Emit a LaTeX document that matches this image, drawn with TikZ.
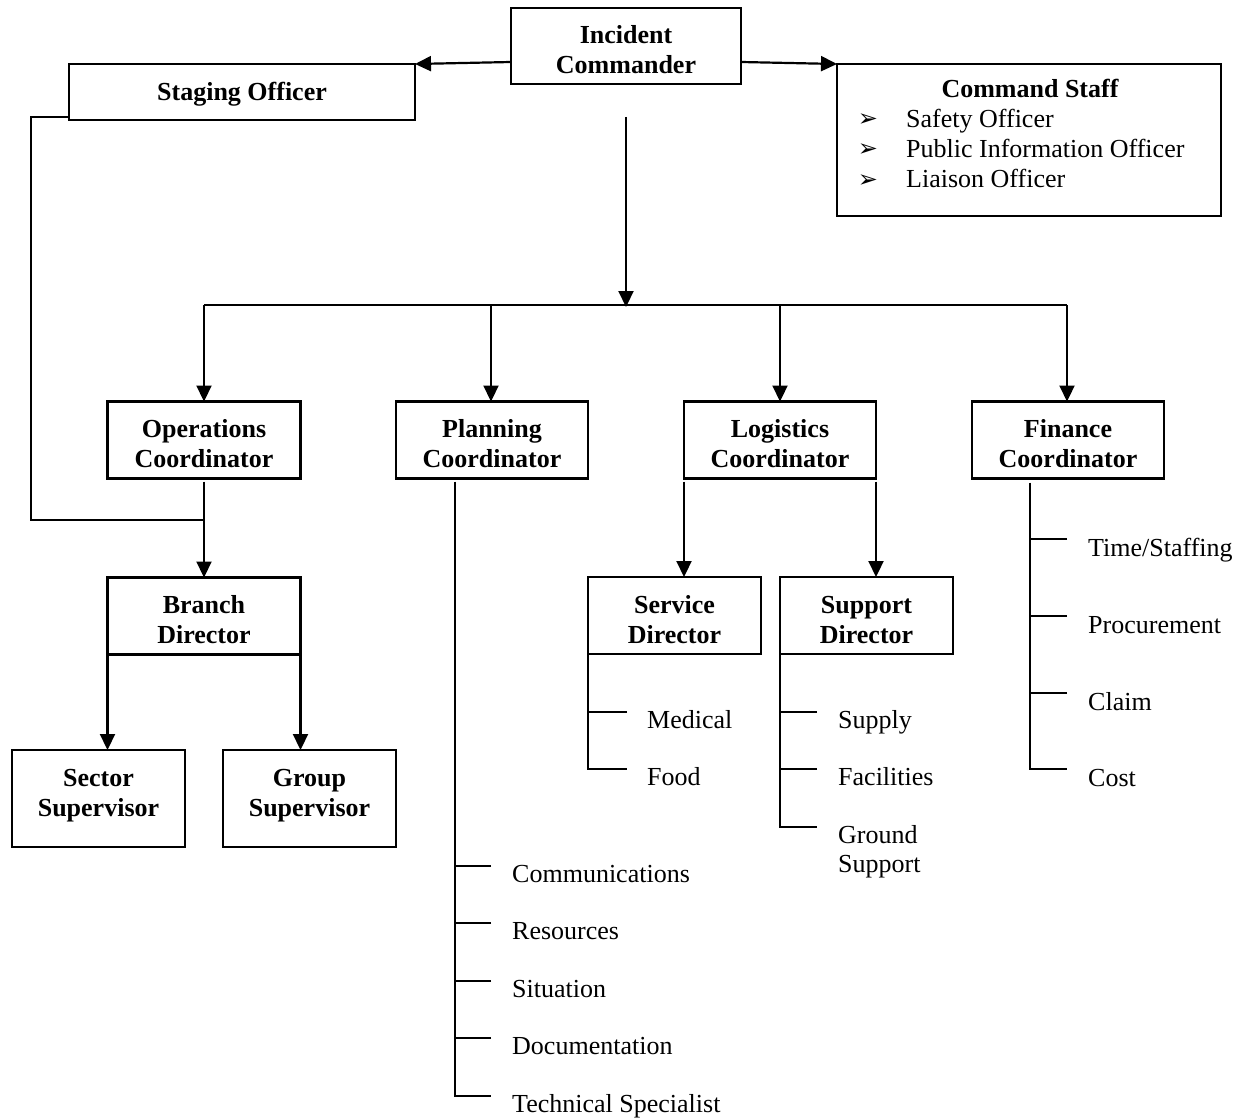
\documentclass[tikz,border=0pt]{standalone}
\usepackage{fontspec}
\setmainfont{Liberation Serif}
\newfontfamily\symfont{DejaVu Sans}
\usetikzlibrary{arrows.meta}
\newcommand\tup{\rule{0pt}{26pt}}
\newcommand\bdn{\rule[-12pt]{0pt}{1pt}}
\begin{document}
\begin{tikzpicture}[x=1pt,y=-1pt,
  box/.style={draw,line width=2.1pt,inner sep=0pt,outer sep=0pt,align=center,font=\fontsize{26}{30}\selectfont\bfseries},
  conn/.style={line width=2.2pt},
  arr/.style={line width=2.2pt,-{Triangle[length=16pt,width=15pt]}},
  tree/.style={line width=1.9pt},
  item/.style={anchor=base west,inner sep=0pt,font=\fontsize{26}{30}\selectfont},
  bul/.style={anchor=base,inner sep=0pt,font=\symfont\fontsize{24}{26}\selectfont},
]
\useasboundingbox (0,0) rectangle (1249,1118);

% boxes
\node[box,minimum width=230pt,minimum height=76pt] (ic) at (626,46) {\tup Incident\\Commander};
\node[box,minimum width=346pt,minimum height=56pt] (so) at (242,92) {\rule{0pt}{22pt}Staging Officer};
\node[draw,line width=2.1pt,minimum width=384pt,minimum height=152pt,inner sep=0pt,outer sep=0pt] (cs) at (1029,140) {};
\node[anchor=base,inner sep=0pt,font=\fontsize{26}{30}\selectfont\bfseries] (cst) at (1030,98) {Command Staff};
\node[bul] (bu1) at (868,127) {➢};
\node[bul] (bu2) at (868,157) {➢};
\node[bul] (bu3) at (868,187) {➢};
\node[item] (c1) at (906,128) {Safety Officer};
\node[item] (c2) at (906,158) {Public Information Officer};
\node[item] (c3) at (906,188) {Liaison Officer};

\node[box,minimum width=193pt,minimum height=77pt] (ops) at (204,440) {\tup Operations\\Coordinator};
\node[box,minimum width=192pt,minimum height=77pt] (plan) at (492,440) {\tup Planning\\Coordinator};
\node[box,minimum width=192pt,minimum height=77pt] (log) at (780,440) {\tup Logistics\\Coordinator};
\node[box,minimum width=192pt,minimum height=77pt] (fin) at (1068,440) {\tup Finance\\Coordinator};

\node[box,minimum width=193pt,minimum height=77pt] (bd) at (204,616) {\tup Branch\\Director};
\node[box,minimum width=173pt,minimum height=97pt] (ss) at (98.5,798.5) {Sector\\Supervisor\bdn};
\node[box,minimum width=173pt,minimum height=97pt] (gs) at (309.5,798.5) {Group\\Supervisor\bdn};

\node[box,minimum width=173pt,minimum height=77pt] (svc) at (674.5,615.5) {\tup Service\\Director};
\node[box,minimum width=173pt,minimum height=77pt] (sup) at (866.5,615.5) {\tup Support\\Director};

% top connectors
\draw[arr] ([yshift=-16pt]ic.west) -- (so.north east);
\draw[arr] ([yshift=-16pt]ic.east) -- (cs.north west);

\coordinate (top) at (626,117);
\coordinate (bus) at (626,305);
\coordinate (bl) at (204,305);
\coordinate (br) at (1067,305);
\coordinate (bp) at (491,305);
\coordinate (bg) at (780,305);
\draw[arr] (top) -- ([yshift=-2pt]bus);
\draw[conn] (bl) -- (br);
\draw[arr] (bl) -- (ops.north);
\draw[arr] (bp) -- (bp |- plan.north);
\draw[arr] (bg) -- (log.north);
\draw[arr] (br) -- (br |- fin.north);

% operations branch
\coordinate (j) at (204,520);
\coordinate (sc) at (31,117);
\draw[arr] ([yshift=-3pt]ops.south) -- (bd.north);
\draw[conn] ([yshift=3pt]so.south west) -- (sc) |- (j);
\draw[arr] (bd.south west) -- (bd.south west |- ss.north);
\draw[arr] (bd.south east) -- (bd.south east |- gs.north);

% logistics branch
\draw[arr] ([yshift=-3pt]log.south west) -- (log.south west |- svc.north);
\draw[arr] ([yshift=-3pt]log.south east) -- (log.south east |- sup.north);

% items
\node[item] (med) at (647,728) {Medical};
\node[item] (food) at (647,785) {Food};
\node[item] (sply) at (838,728) {Supply};
\node[item] (fac) at (838,785) {Facilities};
\node[item] (gsup) at (838,843) {\begin{tabular}[t]{@{}l@{}}Ground\\[-0.5pt]Support\end{tabular}};

\node[item] (ts) at (1088,556) {Time/Staffing};
\node[item] (proc) at (1088,633) {Procurement};
\node[item] (clm) at (1088,710) {Claim};
\node[item] (cost) at (1088,786) {Cost};

\node[item] (comm) at (512,882) {Communications};
\node[item] (res) at (512,939) {Resources};
\node[item] (sit) at (512,997) {Situation};
\node[item] (doc) at (512,1054) {Documentation};
\node[item] (tech) at (512,1112) {Technical Specialist};

% service tree
\draw[tree] (svc.south west) |- ([xshift=-20pt,yshift=16pt]food.base west);
\draw[tree] ([xshift=-20pt,yshift=16pt]med.base west) -- +(-39,0);

% support tree
\draw[tree] (sup.south west) |- ([xshift=-21pt,yshift=16pt]gsup.base west);
\draw[tree] ([xshift=-21pt,yshift=16pt]sply.base west) -- +(-37,0);
\draw[tree] ([xshift=-21pt,yshift=16pt]fac.base west) -- +(-37,0);

% finance tree
\draw[tree] ([xshift=-38pt,yshift=-4pt]fin.south) |- ([xshift=-21pt,yshift=17pt]cost.base west);
\draw[tree] ([xshift=-21pt,yshift=17pt]ts.base west) -- +(-37,0);
\draw[tree] ([xshift=-21pt,yshift=17pt]proc.base west) -- +(-37,0);
\draw[tree] ([xshift=-21pt,yshift=17pt]clm.base west) -- +(-37,0);

% planning tree
\draw[tree] ([xshift=-37pt,yshift=-3pt]plan.south) |- ([xshift=-21pt,yshift=16pt]tech.base west);
\draw[tree] ([xshift=-21pt,yshift=16pt]comm.base west) -- +(-36,0);
\draw[tree] ([xshift=-21pt,yshift=16pt]res.base west) -- +(-36,0);
\draw[tree] ([xshift=-21pt,yshift=16pt]sit.base west) -- +(-36,0);
\draw[tree] ([xshift=-21pt,yshift=16pt]doc.base west) -- +(-36,0);
\end{tikzpicture}
\end{document}
